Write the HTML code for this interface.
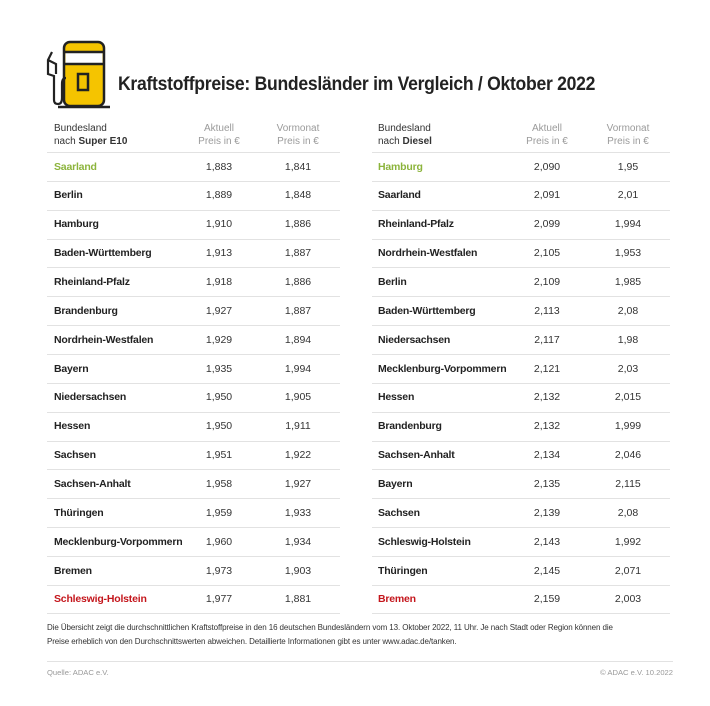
<!DOCTYPE html>
<html><head><meta charset="utf-8"><style>
body{margin:0;width:710px;height:706px;background:#fff;font-family:"Liberation Sans",sans-serif;position:relative;overflow:hidden;color:#222}
.t{position:absolute;white-space:nowrap}
.tbl{position:absolute;top:152px}
.row{position:relative;height:28.87px;border-top:1.5px solid #e2e2e2;box-sizing:border-box}
.row span{position:absolute;top:7.5px;font-size:10.5px}
.nm{font-weight:bold;letter-spacing:-0.2px}
.c1,.c2{transform:translateX(-50%);color:#333}
.hd{position:absolute;top:122px;font-size:10px;line-height:13px;color:#333}
.g{color:#9a9a9a;text-align:center;transform:translateX(-50%)}
.grn{color:#8cb43c}.red{color:#c4161c}
</style></head><body>
<svg class="t" style="left:44px;top:40px" width="70" height="70" viewBox="0 0 70 70">
<rect x="20" y="2" width="40" height="64" rx="6" fill="#f5c400" stroke="#222" stroke-width="2.5"/>
<rect x="21.5" y="12" width="37" height="12" fill="#fff"/>
<line x1="20" y1="12" x2="60" y2="12" stroke="#222" stroke-width="2.5"/>
<line x1="20" y1="24" x2="60" y2="24" stroke="#222" stroke-width="2.5"/>
<rect x="34" y="34" width="10" height="16" fill="none" stroke="#222" stroke-width="2.5"/>
<line x1="14" y1="67" x2="66" y2="67" stroke="#222" stroke-width="2.5"/>
<path d="M8 12 L4 20 L4 34 L10 36 L10 60 Q10 64 14 64 Q18 64 18 58 L18 44 Q18 38 22 38" fill="none" stroke="#222" stroke-width="2.2"/>
<path d="M4 20 L12 24 L12 34" fill="none" stroke="#222" stroke-width="2.2"/>
</svg>
<div class="t" style="left:118px;top:74px;font-size:19px;font-weight:bold;color:#222;letter-spacing:-0.3px;transform:scaleX(0.925);transform-origin:0 0">Kraftstoffpreise: Bundesländer im Vergleich / Oktober 2022</div>

<div class="hd" style="left:54px">Bundesland<br>nach <b>Super E10</b></div>
<div class="hd g" style="left:219px">Aktuell<br>Preis in €</div>
<div class="hd g" style="left:298px">Vormonat<br>Preis in €</div>
<div class="hd" style="left:378px">Bundesland<br>nach <b>Diesel</b></div>
<div class="hd g" style="left:547px">Aktuell<br>Preis in €</div>
<div class="hd g" style="left:628px">Vormonat<br>Preis in €</div>

<div class="tbl" style="left:47px;width:293px">
<div class="row"><span class="nm grn" style="left:7px">Saarland</span><span class="c1" style="left:172px">1,883</span><span class="c2" style="left:251px">1,841</span></div>
<div class="row"><span class="nm" style="left:7px">Berlin</span><span class="c1" style="left:172px">1,889</span><span class="c2" style="left:251px">1,848</span></div>
<div class="row"><span class="nm" style="left:7px">Hamburg</span><span class="c1" style="left:172px">1,910</span><span class="c2" style="left:251px">1,886</span></div>
<div class="row"><span class="nm" style="left:7px">Baden-Württemberg</span><span class="c1" style="left:172px">1,913</span><span class="c2" style="left:251px">1,887</span></div>
<div class="row"><span class="nm" style="left:7px">Rheinland-Pfalz</span><span class="c1" style="left:172px">1,918</span><span class="c2" style="left:251px">1,886</span></div>
<div class="row"><span class="nm" style="left:7px">Brandenburg</span><span class="c1" style="left:172px">1,927</span><span class="c2" style="left:251px">1,887</span></div>
<div class="row"><span class="nm" style="left:7px">Nordrhein-Westfalen</span><span class="c1" style="left:172px">1,929</span><span class="c2" style="left:251px">1,894</span></div>
<div class="row"><span class="nm" style="left:7px">Bayern</span><span class="c1" style="left:172px">1,935</span><span class="c2" style="left:251px">1,994</span></div>
<div class="row"><span class="nm" style="left:7px">Niedersachsen</span><span class="c1" style="left:172px">1,950</span><span class="c2" style="left:251px">1,905</span></div>
<div class="row"><span class="nm" style="left:7px">Hessen</span><span class="c1" style="left:172px">1,950</span><span class="c2" style="left:251px">1,911</span></div>
<div class="row"><span class="nm" style="left:7px">Sachsen</span><span class="c1" style="left:172px">1,951</span><span class="c2" style="left:251px">1,922</span></div>
<div class="row"><span class="nm" style="left:7px">Sachsen-Anhalt</span><span class="c1" style="left:172px">1,958</span><span class="c2" style="left:251px">1,927</span></div>
<div class="row"><span class="nm" style="left:7px">Thüringen</span><span class="c1" style="left:172px">1,959</span><span class="c2" style="left:251px">1,933</span></div>
<div class="row"><span class="nm" style="left:7px">Mecklenburg-Vorpommern</span><span class="c1" style="left:172px">1,960</span><span class="c2" style="left:251px">1,934</span></div>
<div class="row"><span class="nm" style="left:7px">Bremen</span><span class="c1" style="left:172px">1,973</span><span class="c2" style="left:251px">1,903</span></div>
<div class="row" style="border-bottom:1.5px solid #e2e2e2"><span class="nm red" style="left:7px">Schleswig-Holstein</span><span class="c1" style="left:172px">1,977</span><span class="c2" style="left:251px">1,881</span></div>
</div>

<div class="tbl" style="left:372px;width:298px">
<div class="row"><span class="nm grn" style="left:6px">Hamburg</span><span class="c1" style="left:175px">2,090</span><span class="c2" style="left:256px">1,95</span></div>
<div class="row"><span class="nm" style="left:6px">Saarland</span><span class="c1" style="left:175px">2,091</span><span class="c2" style="left:256px">2,01</span></div>
<div class="row"><span class="nm" style="left:6px">Rheinland-Pfalz</span><span class="c1" style="left:175px">2,099</span><span class="c2" style="left:256px">1,994</span></div>
<div class="row"><span class="nm" style="left:6px">Nordrhein-Westfalen</span><span class="c1" style="left:175px">2,105</span><span class="c2" style="left:256px">1,953</span></div>
<div class="row"><span class="nm" style="left:6px">Berlin</span><span class="c1" style="left:175px">2,109</span><span class="c2" style="left:256px">1,985</span></div>
<div class="row"><span class="nm" style="left:6px">Baden-Württemberg</span><span class="c1" style="left:175px">2,113</span><span class="c2" style="left:256px">2,08</span></div>
<div class="row"><span class="nm" style="left:6px">Niedersachsen</span><span class="c1" style="left:175px">2,117</span><span class="c2" style="left:256px">1,98</span></div>
<div class="row"><span class="nm" style="left:6px">Mecklenburg-Vorpommern</span><span class="c1" style="left:175px">2,121</span><span class="c2" style="left:256px">2,03</span></div>
<div class="row"><span class="nm" style="left:6px">Hessen</span><span class="c1" style="left:175px">2,132</span><span class="c2" style="left:256px">2,015</span></div>
<div class="row"><span class="nm" style="left:6px">Brandenburg</span><span class="c1" style="left:175px">2,132</span><span class="c2" style="left:256px">1,999</span></div>
<div class="row"><span class="nm" style="left:6px">Sachsen-Anhalt</span><span class="c1" style="left:175px">2,134</span><span class="c2" style="left:256px">2,046</span></div>
<div class="row"><span class="nm" style="left:6px">Bayern</span><span class="c1" style="left:175px">2,135</span><span class="c2" style="left:256px">2,115</span></div>
<div class="row"><span class="nm" style="left:6px">Sachsen</span><span class="c1" style="left:175px">2,139</span><span class="c2" style="left:256px">2,08</span></div>
<div class="row"><span class="nm" style="left:6px">Schleswig-Holstein</span><span class="c1" style="left:175px">2,143</span><span class="c2" style="left:256px">1,992</span></div>
<div class="row"><span class="nm" style="left:6px">Thüringen</span><span class="c1" style="left:175px">2,145</span><span class="c2" style="left:256px">2,071</span></div>
<div class="row" style="border-bottom:1.5px solid #e2e2e2"><span class="nm red" style="left:6px">Bremen</span><span class="c1" style="left:175px">2,159</span><span class="c2" style="left:256px">2,003</span></div>
</div>

<div class="t" style="left:47px;top:621px;font-size:8px;line-height:14px;color:#333;letter-spacing:-0.1px">Die Übersicht zeigt die durchschnittlichen Kraftstoffpreise in den 16 deutschen Bundesländern vom 13. Oktober 2022, 11 Uhr. Je nach Stadt oder Region können die<br>Preise erheblich von den Durchschnittswerten abweichen. Detaillierte Informationen gibt es unter www.adac.de/tanken.</div>
<div class="t" style="left:47px;top:661px;width:626px;border-top:1.5px solid #e2e2e2"></div>
<div class="t" style="left:47px;top:668px;font-size:7.6px;color:#999">Quelle: ADAC e.V.</div>
<div class="t" style="right:37px;top:668px;font-size:7.6px;color:#999">© ADAC e.V. 10.2022</div>
</body></html>
